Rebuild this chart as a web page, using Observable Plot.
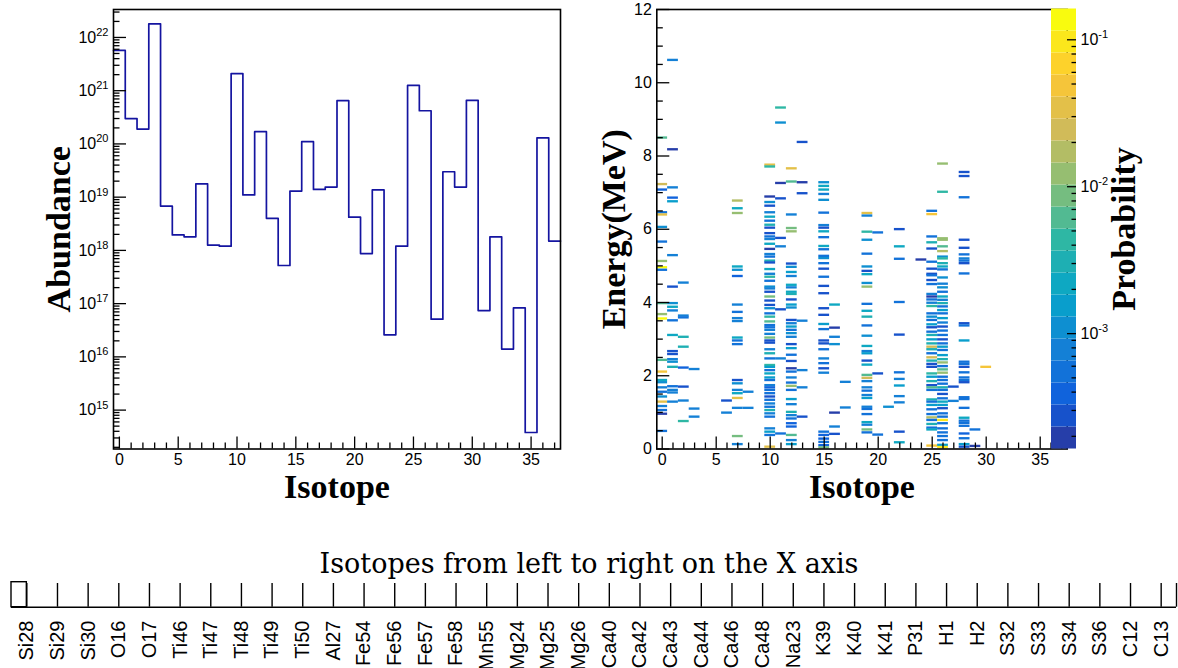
<!DOCTYPE html>
<html><head><meta charset="utf-8">
<script src="https://cdn.jsdelivr.net/npm/d3@7"></script>
<script src="https://cdn.jsdelivr.net/npm/@observablehq/plot@0.6"></script>
<style>
html,body{margin:0;padding:0;background:#fff;}
#root{position:relative;width:1178px;height:668px;overflow:hidden;background:#fff;}
#root > div{position:absolute;}
</style></head>
<body><div id="root">
<div id="left" style="left:0;top:0"></div>
<div id="right" style="left:580px;top:0"></div>
<div id="cbar" style="left:1051px;top:0"></div>
<div id="bottom" style="left:0;top:530px"></div>
</div>
<script>
// ---------------- DATA ----------------
const isotopes = ["Si28","Si29","Si30","O16","O17","Ti46","Ti47","Ti48","Ti49","Ti50","Al27","Fe54","Fe56","Fe57","Fe58","Mn55","Mg24","Mg25","Mg26","Ca40","Ca42","Ca43","Ca44","Ca46","Ca48","Na23","K39","K40","K41","P31","H1","H2","S32","S33","S34","S36","C12","C13"];
const abundance = [5.7e21,3.0e20,1.9e20,1.8e22,6.8e18,1.95e18,1.8e18,1.78e19,1.26e18,1.2e18,2.1e21,1.1e19,1.7e20,4.0e18,5.2e17,1.3e19,1.1e20,1.4e19,1.55e19,6.5e20,4.2e18,8.7e17,1.37e19,2.6e16,1.2e18,1.26e21,4.2e20,5.1e16,3.0e19,1.55e19,6.6e20,7.4e16,1.8e18,1.4e16,8.3e16,3.8e14,1.3e20,1.5e18];
const isotopeTicks = [0,5,10,15,20,25,30,35];
const abundanceDecades = [1e15,1e16,1e17,1e18,1e19,1e20,1e21,1e22];
const energyTicks = [0,2,4,6,8,10,12];
const probabilityDecades = [1e-3,1e-2,1e-1];
const probabilityRange = [1.64e-4, 0.162];

// gamma lines [energy MeV, probability] per isotope
const linesSi28 = [[8.49,6.2e-3],[7.22,2.5e-2],[7.07,3.9e-4],[6.45,5.5e-4],[6.39,3.5e-2],[6.05,1.1e-3],[5.65,5.5e-4],[5.12,1.2e-2],[4.95,0.137],[4.88,5.5e-4],[3.97,6.2e-3],[3.67,1.2e-2],[3.55,0.137],[2.42,6.2e-3],[2.10,4.9e-2],[1.87,2.2e-3],[1.81,1.1e-3],[1.67,7.8e-4],[1.55,5.5e-4],[1.42,1.1e-3],[1.28,3.5e-2],[1.16,7.8e-4],[1.05,5.5e-4],[0.95,2.0e-4],[0.48,5.5e-4]];
const linesSi29 = [[10.61,7.8e-4],[8.17,2.0e-4],[7.13,7.8e-4],[6.85,3.9e-4],[6.75,1.6e-3],[5.28,7.8e-4],[4.42,2.8e-4],[3.97,1.1e-3],[3.87,2.2e-3],[3.77,7.8e-4],[3.50,5.5e-4],[3.10,2.5e-3],[2.66,2.8e-4],[2.58,2.8e-4],[2.44,7.8e-4],[2.37,1.1e-3],[2.23,3.1e-3],[1.70,5.5e-4],[1.60,7.8e-4],[1.53,7.8e-4],[1.28,7.8e-4]];
const linesSi30 = [[4.53,7.8e-4],[3.63,7.8e-4],[3.58,5.5e-4],[3.05,3.1e-3],[2.78,3.1e-3],[2.21,3.9e-4],[1.69,2.8e-4],[1.31,7.8e-4],[0.75,4.4e-3]];
const linesO16 = [[2.17,7.8e-4],[1.09,7.8e-4],[0.87,7.8e-4]];
const linesTi47 = [[1.31,2.8e-4],[0.98,7.8e-4]];
const linesTi48 = [[6.77,1.7e-2],[6.56,2.2e-3],[6.43,1.2e-2],[4.97,2.2e-3],[4.88,1.1e-3],[4.71,3.9e-4],[3.93,7.8e-4],[3.73,5.5e-4],[3.56,7.8e-4],[3.48,7.8e-4],[3.03,2.2e-3],[2.95,5.5e-4],[2.85,5.5e-4],[1.87,2.8e-4],[1.78,1.1e-3],[1.60,7.8e-4],[1.51,2.2e-3],[1.38,3.5e-2],[1.11,7.8e-4],[0.34,8.7e-3],[0.12,7.8e-4]];
const linesTi49 = [[1.55,7.8e-4],[1.11,7.8e-4]];
const linesAl27 = [[7.75,3.5e-2],[7.70,4.4e-3],[6.88,2.0e-4],[6.73,1.1e-3],[6.63,2.8e-4],[6.45,7.8e-4],[6.33,2.2e-3],[6.22,5.5e-4],[6.11,3.1e-3],[6.03,2.8e-4],[5.88,2.8e-4],[5.79,5.5e-4],[5.72,7.8e-4],[5.59,2.2e-3],[5.45,2.0e-4],[5.31,7.8e-4],[5.24,5.5e-4],[5.13,3.1e-3],[5.08,2.8e-4],[4.90,2.2e-3],[4.77,7.8e-4],[4.69,4.4e-3],[4.58,5.5e-4],[4.42,1.1e-3],[4.37,7.8e-4],[4.28,2.8e-4],[4.15,8.7e-3],[4.04,2.8e-4],[3.92,2.8e-4],[3.83,1.1e-3],[3.69,5.5e-4],[3.60,4.4e-3],[3.47,6.2e-3],[3.37,5.5e-4],[3.31,5.5e-4],[3.24,7.8e-4],[3.13,7.8e-4],[3.03,8.7e-3],[2.95,2.8e-4],[2.89,2.8e-4],[2.71,7.8e-4],[2.60,3.1e-3],[2.46,5.5e-4],[2.28,4.4e-3],[2.23,1.6e-3],[2.14,5.5e-4],[2.05,2.2e-3],[1.94,1.6e-3],[1.87,5.5e-4],[1.73,7.8e-4],[1.67,3.9e-4],[1.60,5.5e-4],[1.51,5.5e-4],[1.42,2.8e-4],[1.33,5.5e-4],[1.23,7.8e-4],[1.14,5.5e-4],[1.05,3.1e-3],[0.96,7.8e-4],[0.87,5.5e-4],[0.55,7.8e-4],[0.46,1.6e-3],[0.37,5.5e-4],[0.05,3.5e-2]];
const linesFe54 = [[9.31,4.4e-3],[8.90,1.1e-3],[7.25,2.0e-4],[6.83,2.8e-4],[5.75,2.8e-4],[5.52,7.8e-4],[3.80,2.8e-4],[2.46,7.8e-4],[0.41,5.5e-4]];
const linesFe56 = [[7.65,3.5e-2],[7.29,6.2e-3],[6.39,7.8e-4],[6.02,8.7e-3],[5.93,1.2e-2],[5.05,2.8e-4],[4.96,1.1e-3],[4.82,1.6e-3],[4.71,7.8e-4],[4.47,2.2e-3],[4.40,7.8e-4],[4.28,2.2e-3],[4.22,3.1e-3],[4.07,2.8e-4],[3.93,1.6e-3],[3.85,1.1e-3],[3.51,2.8e-4],[3.42,7.8e-4],[3.33,1.6e-3],[3.24,5.5e-4],[3.15,1.1e-3],[3.05,7.8e-4],[2.85,2.8e-4],[2.74,1.6e-3],[2.56,5.5e-4],[2.39,2.8e-4],[2.19,2.0e-4],[2.10,5.5e-4],[1.94,7.8e-4],[1.80,5.5e-4],[1.71,1.2e-2],[1.60,5.5e-4],[1.35,1.6e-3],[1.21,7.8e-4],[1.00,3.1e-3],[0.91,7.8e-4],[0.82,5.5e-4],[0.69,3.9e-4],[0.60,3.9e-4],[0.37,6.2e-3],[0.23,7.8e-4],[0.12,1.6e-3]];
const linesFe57 = [[8.37,2.8e-4],[7.27,2.0e-4],[6.97,2.8e-4],[3.49,7.8e-4],[2.14,7.8e-4],[1.67,7.8e-4],[0.87,2.8e-4]];
const linesMn55 = [[7.27,1.1e-3],[7.17,2.2e-3],[7.07,2.2e-3],[6.95,7.8e-4],[6.79,1.1e-3],[6.44,5.5e-4],[6.10,7.8e-4],[6.03,2.8e-4],[5.93,2.2e-3],[5.77,5.5e-4],[5.53,2.2e-3],[5.44,5.5e-4],[5.26,5.5e-4],[5.20,1.1e-3],[5.06,5.5e-4],[4.91,2.8e-4],[4.69,5.5e-4],[4.44,2.8e-4],[4.24,2.8e-4],[3.83,2.8e-4],[3.65,2.8e-4],[3.40,1.6e-3],[3.26,5.5e-4],[2.95,2.8e-4],[2.87,2.8e-4],[2.71,5.5e-4],[2.46,7.8e-4],[2.33,5.5e-4],[2.19,2.8e-4],[2.07,7.8e-4],[0.46,5.5e-4],[0.37,3.9e-4],[0.27,3.9e-4],[0.18,5.5e-4],[0.09,3.9e-4],[0.03,8.7e-3]];
const linesMg24 = [[3.93,2.2e-3],[3.30,2.0e-4],[3.05,7.8e-4],[2.85,1.1e-3],[0.98,2.0e-4],[0.60,7.8e-4],[0.40,2.8e-4]];
const linesMg25 = [[1.82,7.8e-4],[1.12,7.8e-4]];
const linesCa40 = [[6.43,3.5e-2],[6.36,7.8e-4],[5.92,4.4e-3],[5.70,1.1e-3],[5.32,5.5e-4],[4.97,1.1e-3],[4.85,2.8e-4],[4.76,2.2e-3],[4.52,1.1e-3],[4.42,1.2e-2],[3.95,5.5e-4],[3.76,2.2e-3],[3.60,3.1e-3],[3.36,5.5e-4],[3.08,1.1e-3],[2.80,2.2e-3],[2.66,7.8e-4],[2.60,1.6e-3],[2.40,2.8e-4],[2.29,2.2e-3],[2.01,6.2e-3],[1.93,2.5e-2],[1.84,7.8e-4],[1.67,7.8e-4],[1.58,5.5e-4],[1.46,7.8e-4],[1.38,1.6e-3],[1.14,7.8e-4],[1.08,5.5e-4],[0.94,5.5e-4],[0.72,2.2e-3],[0.65,7.8e-4],[0.52,8.7e-3],[0.44,5.5e-4]];
const linesCa42 = [[5.90,5.5e-4],[2.05,2.8e-4],[0.38,5.5e-4]];
const linesCa43 = [[1.14,1.1e-3]];
const linesCa44 = [[5.99,2.8e-4],[5.52,2.2e-3],[5.18,5.5e-4],[4.00,5.5e-4],[3.11,2.8e-4],[2.08,5.5e-4],[1.90,7.8e-4],[1.72,1.6e-3],[1.43,7.8e-4],[1.26,7.8e-4],[0.46,2.8e-4],[0.17,2.2e-3]];
const linesCa48 = [[5.16,2.0e-4]];
const linesNa23 = [[6.49,5.5e-4],[6.40,4.9e-2],[5.79,5.5e-4],[5.63,3.1e-3],[5.46,2.8e-4],[5.10,5.5e-4],[4.91,2.8e-4],[4.77,2.8e-4],[4.73,5.5e-4],[4.60,2.8e-4],[4.49,5.5e-4],[4.22,7.8e-4],[4.15,2.0e-4],[4.07,5.5e-4],[3.98,7.8e-4],[3.89,4.4e-3],[3.69,5.5e-4],[3.60,1.1e-3],[3.51,5.5e-4],[3.39,1.6e-3],[3.31,2.8e-4],[3.19,5.5e-4],[3.10,3.1e-3],[2.98,1.6e-3],[2.87,3.1e-3],[2.78,2.5e-2],[2.71,3.1e-3],[2.60,5.5e-4],[2.49,2.5e-2],[2.40,3.1e-3],[2.31,2.8e-4],[2.23,2.8e-4],[2.05,4.4e-3],[1.96,1.6e-3],[1.84,3.1e-3],[1.73,2.8e-4],[1.67,6.2e-3],[1.60,5.5e-4],[1.34,3.1e-3],[1.28,5.5e-4],[1.19,1.6e-3],[1.07,5.5e-4],[0.94,5.5e-4],[0.85,1.7e-2],[0.78,5.5e-4],[0.67,3.1e-3],[0.57,5.5e-4],[0.52,2.2e-3],[0.08,4.9e-2]];
const linesK39 = [[7.78,1.2e-2],[7.01,4.4e-3],[5.74,1.2e-2],[5.70,1.2e-2],[5.52,6.2e-3],[5.39,1.7e-2],[5.24,1.1e-3],[5.19,4.4e-3],[5.06,3.1e-3],[4.97,2.2e-3],[4.89,5.5e-4],[4.67,1.1e-3],[4.50,7.8e-4],[4.40,1.1e-3],[4.28,5.5e-4],[4.15,2.2e-3],[4.06,7.8e-4],[3.97,3.1e-3],[3.88,5.5e-4],[3.78,1.6e-3],[3.69,5.5e-4],[3.56,1.6e-3],[3.44,7.8e-4],[3.33,2.8e-4],[3.22,5.5e-4],[3.10,5.5e-4],[2.98,2.8e-4],[2.87,5.5e-4],[2.78,1.6e-3],[2.69,5.5e-4],[2.55,1.6e-3],[2.44,3.1e-3],[2.35,1.2e-2],[2.25,5.5e-4],[2.16,6.2e-3],[2.07,1.2e-2],[1.96,5.5e-4],[1.87,5.5e-4],[1.77,5.5e-4],[1.67,3.1e-3],[1.60,5.5e-4],[1.49,2.8e-4],[1.37,5.5e-4],[1.28,2.2e-3],[1.19,1.6e-3],[1.10,2.8e-4],[0.96,5.5e-4],[0.87,5.5e-4],[0.78,9.7e-2],[0.69,5.5e-4],[0.55,5.5e-4],[0.44,5.5e-4],[0.34,5.5e-4],[0.23,5.5e-4],[0.10,1.6e-3],[0.04,9.7e-2]];
const linesK40 = [[1.69,2.8e-4],[1.30,7.8e-4]];
const linesK41 = [[7.55,2.8e-4],[7.44,2.8e-4],[6.86,5.5e-4],[5.70,2.8e-4],[5.48,2.8e-4],[5.30,5.5e-4],[5.19,7.8e-4],[5.13,5.5e-4],[5.06,2.8e-4],[4.78,5.5e-4],[3.42,2.8e-4],[3.36,5.5e-4],[2.95,1.6e-3],[2.37,5.5e-4],[2.31,5.5e-4],[2.23,2.8e-4],[2.08,5.5e-4],[1.94,5.5e-4],[1.87,5.5e-4],[1.81,2.8e-4],[1.40,5.5e-4],[1.35,5.5e-4],[1.11,5.5e-4],[0.84,2.2e-3],[0.76,5.5e-4],[0.70,5.5e-4],[0.62,5.5e-4],[0.41,3.9e-4],[0.28,5.5e-4],[0.12,1.6e-3],[0.05,2.8e-4]];
const linesP31 = [[0.52,5.5e-4],[0.07,2.0e-4]];
const linesH1 = [[2.23,4.9e-2]];

const gammaLines = [["Si28",linesSi28],["Si29",linesSi29],["Si30",linesSi30],["O16",linesO16],["Ti47",linesTi47],["Ti48",linesTi48],["Ti49",linesTi49],["Al27",linesAl27],["Fe54",linesFe54],["Fe56",linesFe56],["Fe57",linesFe57],["Mn55",linesMn55],["Mg24",linesMg24],["Mg25",linesMg25],["Ca40",linesCa40],["Ca42",linesCa42],["Ca43",linesCa43],["Ca44",linesCa44],["Ca48",linesCa48],["Na23",linesNa23],["K39",linesK39],["K40",linesK40],["K41",linesK41],["P31",linesP31],["H1",linesH1]];

// ---------------- STYLE ----------------
const birdPalette = ["#263ea9","#1752cb","#1063dc","#1272d9","#1480d6","#0e8fd1","#099ecc","#0ea8c2","#1eafb3","#2eb7a4","#52ba92","#75bd80","#96be71","#b3bd65","#d1bb59","#e3c049","#f5c53a","#fdd22b","#fbe71c","#f9fb0e"];
const sans = "'Liberation Sans', Arial, Helvetica, sans-serif";
const serif = "'Liberation Serif', 'Times New Roman', serif";
const SVGNS = "http://www.w3.org/2000/svg";

function superscripts(node, size) {
  node.querySelectorAll("text").forEach(t => {
    const m = /^10\^(-?\d+)$/.exec(t.textContent);
    if (!m) return;
    while (t.firstChild) t.removeChild(t.firstChild);
    const base = document.createElementNS(SVGNS, "tspan");
    base.textContent = "10";
    const exp = document.createElementNS(SVGNS, "tspan");
    exp.textContent = m[1];
    exp.setAttribute("dy", "-0.6em");
    exp.setAttribute("font-size", size);
    t.appendChild(base); t.appendChild(exp);
  });
}

const isoIndex = d3.range(isotopes.length);
const isoMinor = isoIndex.filter(i => i % 5 !== 0);
const titleStyle = {fontSize: 34, fontWeight: "bold", fontFamily: serif, fill: "black", textAnchor: "middle", lineAnchor: "middle"};

// ---------------- LEFT PANEL ----------------
{
  const W = 580, H = 500, mL = 113, mR = 20, mT = 9, mB = 51.5;
  const fw = W - mL - mR, fh = H - mT - mB;
  const yDomain = [1.86e14, 3.35e22];
  const minorY = [];
  for (let e = 14; e <= 22; e++) for (let m = 2; m <= 9; m++) { const v = m * 10 ** e; if (v >= yDomain[0] && v <= yDomain[1]) minorY.push(v); }
  const steps = abundance.map((v, i) => ({x: i - 0.5, y: v})).concat([{x: isotopes.length - 0.5, y: abundance[abundance.length - 1]}]);
  const svg = Plot.plot({
    width: W, height: H, marginLeft: mL, marginRight: mR, marginTop: mT, marginBottom: mB,
    x: {domain: [-0.5, isotopes.length - 0.5], axis: null},
    y: {type: "log", domain: yDomain, axis: null},
    style: {fontFamily: sans, fontSize: "16px", color: "black", background: "transparent", overflow: "visible"},
    marks: [
      Plot.line(steps, {x: "x", y: "y", curve: "step-after", stroke: "#1414a0", strokeWidth: 1.7}),
      Plot.tickX(isotopeTicks, {x: d => d, insetTop: fh - 12, stroke: "black", strokeWidth: 1.3}),
      Plot.tickX(isoMinor, {x: d => d, insetTop: fh - 6, stroke: "black", strokeWidth: 1.3}),
      Plot.tickY(abundanceDecades, {y: d => d, insetRight: fw - 13, stroke: "black", strokeWidth: 1.3}),
      Plot.tickY(minorY, {y: d => d, insetRight: fw - 6.5, stroke: "black", strokeWidth: 1.3}),
      Plot.frame({stroke: "black", strokeWidth: 1.6}),
      Plot.text(isotopeTicks, {x: d => d, frameAnchor: "bottom", dy: 11, lineAnchor: "middle", textAnchor: "middle", text: d => String(d), fontSize: 16, fill: "black"}),
      Plot.text(abundanceDecades, {y: d => d, frameAnchor: "left", dx: -5, lineAnchor: "middle", textAnchor: "end", text: d => "10^" + Math.round(Math.log10(d)), fontSize: 16, fill: "black"}),
      Plot.text(["Isotope"], {frameAnchor: "bottom", dy: 38.5, ...titleStyle}),
      Plot.text(["Abundance"], {frameAnchor: "left", dx: -54, rotate: -90, ...titleStyle})
    ]
  });
  superscripts(svg, 11);
  document.getElementById("left").appendChild(svg);
}

// ---------------- RIGHT PANEL ----------------
const nBands = birdPalette.length;
const lLo = Math.log10(probabilityRange[0]), lHi = Math.log10(probabilityRange[1]);
const probThresholds = d3.range(1, nBands).map(k => 10 ** (lLo + k * (lHi - lLo) / nBands));
const colorScale = {type: "threshold", domain: probThresholds, range: birdPalette};
{
  const W = 598, H = 500, mL = 76.3, mR = 111.3, mT = 9, mB = 51.5;
  const fw = W - mL - mR, fh = H - mT - mB;
  const cells = gammaLines.flatMap(([name, arr]) => arr.map(([E, p]) => ({iso: isotopes.indexOf(name), E, p})));
  const eMinor = d3.range(0, 12.01, 0.5).filter(v => v % 2 !== 0);
  const svg = Plot.plot({
    width: W, height: H, marginLeft: mL, marginRight: mR, marginTop: mT, marginBottom: mB,
    x: {domain: [-0.5, isotopes.length - 0.5], axis: null},
    y: {domain: [0, 12], axis: null},
    color: colorScale,
    style: {fontFamily: sans, fontSize: "16px", color: "black", background: "transparent", overflow: "visible"},
    marks: [
      Plot.rect(cells, {x1: d => d.iso - 0.5, x2: d => d.iso + 0.5, y1: d => d.E - 0.032, y2: d => d.E + 0.032, fill: "p", clip: true}),
      Plot.tickX(isotopeTicks, {x: d => d, insetTop: fh - 12, stroke: "black", strokeWidth: 1.3}),
      Plot.tickX(isoMinor, {x: d => d, insetTop: fh - 6, stroke: "black", strokeWidth: 1.3}),
      Plot.tickY(energyTicks, {y: d => d, insetRight: fw - 13, stroke: "black", strokeWidth: 1.3}),
      Plot.tickY(eMinor, {y: d => d, insetRight: fw - 6.5, stroke: "black", strokeWidth: 1.3}),
      Plot.frame({stroke: "black", strokeWidth: 1.6}),
      Plot.text(isotopeTicks, {x: d => d, frameAnchor: "bottom", dy: 11, lineAnchor: "middle", textAnchor: "middle", text: d => String(d), fontSize: 16, fill: "black"}),
      Plot.text(energyTicks, {y: d => d, frameAnchor: "left", dx: -5, lineAnchor: "middle", textAnchor: "end", text: d => String(d), fontSize: 16, fill: "black"}),
      Plot.text(["Isotope"], {frameAnchor: "bottom", dy: 38.5, ...titleStyle}),
      Plot.text(["Energy(MeV)"], {frameAnchor: "left", dx: -43, rotate: -90, ...titleStyle})
    ]
  });
  document.getElementById("right").appendChild(svg);
}

// ---------------- COLOR BAR ----------------
{
  const W = 127, H = 500, mL = 0, mR = 102, mT = 8.5, mB = 51.5;
  const fw = W - mL - mR;
  const edges = [probabilityRange[0], ...probThresholds, probabilityRange[1]];
  const bands = d3.range(nBands).map(k => ({lo: edges[k], hi: edges[k + 1], mid: Math.sqrt(edges[k] * edges[k + 1])}));
  const minorC = [];
  for (let e = -4; e <= -1; e++) for (let m = 2; m <= 9; m++) { const v = m * 10 ** e; if (v >= probabilityRange[0] && v <= probabilityRange[1]) minorC.push(v); }
  const svg = Plot.plot({
    width: W, height: H, marginLeft: mL, marginRight: mR, marginTop: mT, marginBottom: mB,
    y: {type: "log", domain: probabilityRange, axis: null},
    color: colorScale,
    style: {fontFamily: sans, fontSize: "16px", color: "black", background: "transparent", overflow: "visible"},
    marks: [
      Plot.rect(bands, {y1: "lo", y2: "hi", fill: "mid"}),
      Plot.tickY(probabilityDecades, {y: d => d, insetLeft: fw - 9, stroke: "black", strokeWidth: 1.3}),
      Plot.tickY(minorC, {y: d => d, insetLeft: fw - 4.5, stroke: "black", strokeWidth: 1.3}),
      Plot.text(probabilityDecades, {y: d => d, frameAnchor: "right", dx: 4, lineAnchor: "middle", textAnchor: "start", text: d => "10^" + Math.round(Math.log10(d)), fontSize: 16, fill: "black"}),
      Plot.text(["Probability"], {frameAnchor: "right", dx: 48, rotate: -90, ...titleStyle})
    ]
  });
  superscripts(svg, 11);
  document.getElementById("cbar").appendChild(svg);
}

// ---------------- ISOTOPE LEGEND AXIS ----------------
{
  const W = 1178, H = 138, mL = 11, mR = 2, mT = 0, mB = 61.3;
  const fh = H - mT - mB;
  const svg = Plot.plot({
    width: W, height: H, marginLeft: mL, marginRight: mR, marginTop: mT, marginBottom: mB,
    x: {domain: [-0.5, isotopes.length - 0.5], axis: null},
    y: {domain: [0, 1], axis: null},
    style: {fontFamily: sans, fontSize: "20px", color: "black", background: "transparent", overflow: "visible"},
    marks: [
      Plot.text(["Isotopes from left to right on the X axis"], {frameAnchor: "top", dy: 34, dx: -5, lineAnchor: "middle", textAnchor: "middle", fontSize: 27, fontFamily: "'DejaVu Serif', serif", fill: "black"}),
      Plot.rect([0], {x1: -0.5, x2: 0, insetTop: fh - 25, fill: "none", stroke: "black", strokeWidth: 1.4}),
      Plot.tickX(isoIndex, {x: d => d, insetTop: fh - 23.7, stroke: "black", strokeWidth: 1.4}),
      Plot.tickX([isotopes.length - 0.5], {x: d => d, insetTop: fh - 23.7, stroke: "black", strokeWidth: 1.4}),
      Plot.ruleY([0], {stroke: "black", strokeWidth: 1.6}),
      Plot.text(isotopes, {x: (d, i) => i, frameAnchor: "bottom", dy: 13.3, rotate: -90, lineAnchor: "middle", textAnchor: "end", fontSize: 20, fill: "black"})
    ]
  });
  document.getElementById("bottom").appendChild(svg);
}
</script>
</body></html>
